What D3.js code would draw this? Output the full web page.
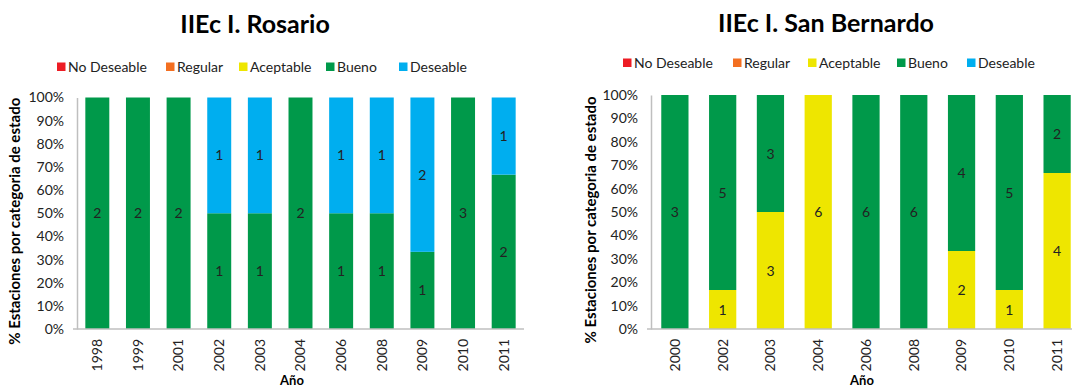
<!DOCTYPE html>
<html>
<head>
<meta charset="utf-8">
<script src="https://cdn.jsdelivr.net/npm/d3@7/dist/d3.min.js"></script>
<style>
  html, body { margin: 0; padding: 0; background: #fff; }
  svg { display: block; font-family: Lato, "Open Sans", sans-serif; }
</style>
</head>
<body>
<svg id="chart" width="1072" height="389"></svg>
<script>
// Categories (state classes), bottom to top of each stack
const categories = ["No Deseable", "Regular", "Aceptable", "Bueno", "Deseable"];
const categoryColors = ["#ED1C24", "#F36F21", "#EEE600", "#00994A", "#00AEEF"];

// IIEc I. Rosario — station counts per year and category
const rosarioYears      = ["1998", "1999", "2001", "2002", "2003", "2004", "2006", "2008", "2009", "2010", "2011"];
const rosarioNoDeseable = [0, 0, 0, 0, 0, 0, 0, 0, 0, 0, 0];
const rosarioRegular    = [0, 0, 0, 0, 0, 0, 0, 0, 0, 0, 0];
const rosarioAceptable  = [0, 0, 0, 0, 0, 0, 0, 0, 0, 0, 0];
const rosarioBueno      = [2, 2, 2, 1, 1, 2, 1, 1, 1, 3, 2];
const rosarioDeseable   = [0, 0, 0, 1, 1, 0, 1, 1, 2, 0, 1];

// IIEc I. San Bernardo — station counts per year and category
const sanBernardoYears      = ["2000", "2002", "2003", "2004", "2006", "2008", "2009", "2010", "2011"];
const sanBernardoNoDeseable = [0, 0, 0, 0, 0, 0, 0, 0, 0];
const sanBernardoRegular    = [0, 0, 0, 0, 0, 0, 0, 0, 0];
const sanBernardoAceptable  = [0, 1, 3, 6, 0, 0, 2, 1, 4];
const sanBernardoBueno      = [3, 5, 3, 0, 6, 6, 4, 5, 2];
const sanBernardoDeseable   = [0, 0, 0, 0, 0, 0, 0, 0, 0];

const yTicks = [0, 0.1, 0.2, 0.3, 0.4, 0.5, 0.6, 0.7, 0.8, 0.9, 1];

const svg = d3.select("#chart");

function drawPanel(cfg) {
  const { title, years, series, plot, titleX, titleY, legendY, legendX,
          yTitleX, tickRight, xTitleX, padding } = cfg;

  const rows = years.map((yr, i) => {
    const row = { year: yr };
    categories.forEach((c, k) => { row[c] = series[k][i]; });
    return row;
  });

  const stacked = d3.stack()
    .keys(categories)
    .offset(d3.stackOffsetExpand)(rows);

  const x = d3.scaleBand().domain(years).range([plot.left, plot.right])
    .paddingInner(padding).paddingOuter(padding / 2);
  const y = d3.scaleLinear().domain([0, 1]).range([plot.bottom, plot.top]);

  const g = svg.append("g");

  // Title
  g.append("text")
    .attr("x", titleX).attr("y", titleY)
    .attr("text-anchor", "middle")
    .attr("font-size", 25).attr("font-weight", "bold").attr("fill", "#000")
    .text(title);

  // Legend
  const leg = g.append("g");
  categories.forEach((c, k) => {
    leg.append("rect")
      .attr("x", legendX[k]).attr("y", legendY - 9.5)
      .attr("width", 8.5).attr("height", 8.5)
      .attr("fill", categoryColors[k]);
    leg.append("text")
      .attr("x", legendX[k] + 11).attr("y", legendY)
      .attr("font-size", 14).attr("fill", "#222")
      .text(c);
  });

  // Bars
  stacked.forEach((layer, k) => {
    g.append("g").selectAll("rect")
      .data(layer)
      .join("rect")
      .attr("x", d => x(d.data.year))
      .attr("width", x.bandwidth())
      .attr("y", d => y(d[1]))
      .attr("height", d => y(d[0]) - y(d[1]))
      .attr("fill", categoryColors[k]);
  });

  // Count labels in the middle of each non-empty segment
  stacked.forEach((layer) => {
    g.append("g").selectAll("text")
      .data(layer.filter(d => d.data[layer.key] > 0))
      .join("text")
      .attr("x", d => x(d.data.year) + x.bandwidth() / 2)
      .attr("y", d => (y(d[0]) + y(d[1])) / 2 + 5)
      .attr("text-anchor", "middle")
      .attr("font-size", 14).attr("fill", "#222")
      .text(d => d.data[layer.key]);
  });

  // Y axis
  const yAxis = g.append("g")
    .attr("transform", `translate(${plot.left},0)`)
    .call(d3.axisLeft(y).tickValues(yTicks).tickFormat(d3.format(".0%")).tickSize(0).tickPadding(plot.left - tickRight));
  yAxis.select(".domain").attr("stroke", "#BFBFBF").attr("stroke-width", 1.5);
  yAxis.selectAll("text").attr("font-size", 14).attr("fill", "#222")
    .attr("font-family", "Lato, sans-serif");

  // X axis
  const xAxis = g.append("g")
    .attr("transform", `translate(0,${plot.bottom})`)
    .call(d3.axisBottom(x).tickSize(0).tickSizeOuter(0));
  xAxis.select(".domain").remove();
  g.append("line")
    .attr("x1", plot.left - 4).attr("x2", plot.right)
    .attr("y1", plot.bottom).attr("y2", plot.bottom)
    .attr("stroke", "#BFBFBF").attr("stroke-width", 1.5);
  xAxis.selectAll("text")
    .attr("font-size", 14).attr("fill", "#222")
    .attr("font-family", "Lato, sans-serif")
    .attr("text-anchor", "end")
    .attr("transform", "rotate(-90)")
    .attr("x", -10).attr("y", 0).attr("dy", "0.35em");

  // Axis titles
  g.append("text")
    .attr("transform", `translate(${yTitleX},${(plot.top + plot.bottom) / 2 + 8}) rotate(-90)`)
    .attr("text-anchor", "middle")
    .attr("font-size", 15).attr("font-weight", "bold").attr("fill", "#000")
    .text("% Estaciones por categoria de estado");

  g.append("text")
    .attr("x", xTitleX).attr("y", 385)
    .attr("text-anchor", "middle")
    .attr("font-size", 13).attr("font-weight", "bold").attr("fill", "#000")
    .text("Año");
}

drawPanel({
  title: "IIEc I. Rosario",
  years: rosarioYears,
  series: [rosarioNoDeseable, rosarioRegular, rosarioAceptable, rosarioBueno, rosarioDeseable],
  plot: { left: 77, right: 524, top: 97.5, bottom: 329 },
  padding: 0.41,
  titleX: 255, titleY: 33,
  legendY: 72, legendX: [57, 166, 239, 326, 399],
  yTitleX: 20, tickRight: 64, xTitleX: 292
});

drawPanel({
  title: "IIEc I. San Bernardo",
  years: sanBernardoYears,
  series: [sanBernardoNoDeseable, sanBernardoRegular, sanBernardoAceptable, sanBernardoBueno, sanBernardoDeseable],
  plot: { left: 651, right: 1081, top: 95, bottom: 329 },
  padding: 0.43,
  titleX: 826, titleY: 32,
  legendY: 68, legendX: [623, 733, 808, 897, 967],
  yTitleX: 596, tickRight: 638, xTitleX: 862
});
</script>
</body>
</html>
